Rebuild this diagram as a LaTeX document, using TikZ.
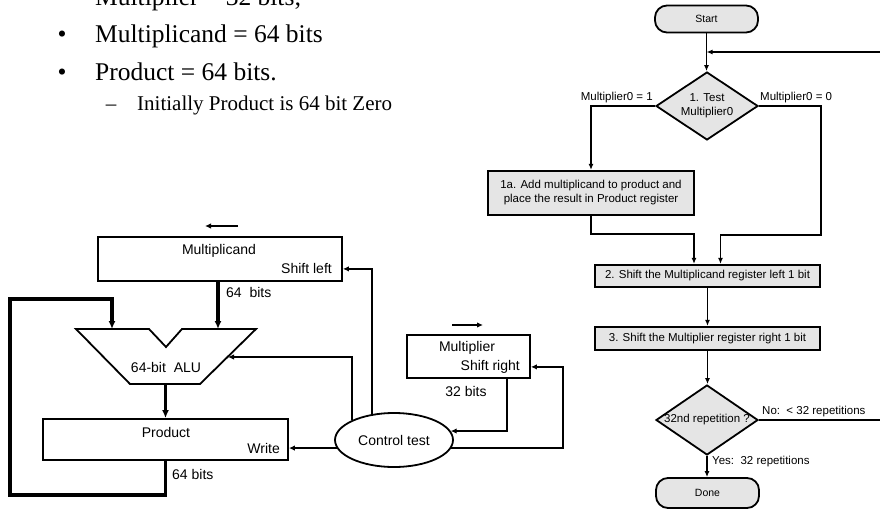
\documentclass[tikz,border=0pt]{standalone}
\usepackage{fontspec}
\setmainfont{Liberation Serif}
\newfontfamily\arialf{Liberation Sans}
\usetikzlibrary{arrows.meta,shapes.geometric,calc}
\begin{document}
\begin{tikzpicture}[x=1pt,y=-1pt,
  bigtxt/.style={font=\fontsize{25.5}{28}\selectfont, inner sep=0pt},
  smalltxt/.style={font=\fontsize{21}{24}\selectfont, inner sep=0pt},
  rtxt/.style={font=\arialf\fontsize{14}{16}\selectfont, inner sep=0pt},
  ftxt/.style={font=\arialf\fontsize{11.5}{14}\selectfont, inner sep=0pt},
  regbox/.style={draw, line width=1.8pt, inner sep=0pt},
  fbox/.style={draw, line width=2.2pt, fill=black!10, inner sep=0pt, align=center, font=\arialf\fontsize{11.5}{14}\selectfont},
  fdia/.style={diamond, draw, line width=1.8pt, fill=black!10, inner sep=0pt, aspect=1.5, align=center, font=\arialf\fontsize{11.5}{14}\selectfont},
  term/.style={draw, line width=1.8pt, fill=black!10, rounded corners=12pt, inner sep=0pt, font=\arialf\fontsize{10.5}{12}\selectfont},
  arr/.style={-{Latex[length=6pt,width=5pt]}, line width=1.8pt},
  tarr/.style={-{Latex[length=6pt,width=5.5pt]}, line width=1.7pt},
  bus/.style={-{Latex[length=8pt,width=7pt]}, line width=3.4pt, line join=miter}
]
\useasboundingbox (0,0) rectangle (880,519);
\clip (0,0) rectangle (880,519);
\fill[white] (0,0) rectangle (880,519);

% ---------- bullet text ----------
\node[bigtxt, anchor=base west] (b0) at (95,6) {Multiplier = 32 bits;};
\node[bigtxt, anchor=base] (bl1) at (62,43) {\textbullet};
\node[bigtxt, anchor=base west] (b1) at (95,43) {Multiplicand = 64 bits};
\node[bigtxt, anchor=base] (bl2) at (62,80) {\textbullet};
\node[bigtxt, anchor=base west] (b2) at (95,80) {Product = 64 bits.};
\node[smalltxt, anchor=base] (d3) at (111,110) {–};
\node[smalltxt, anchor=base west] (b3) at (137,110) {Initially Product is 64 bit Zero};

% ---------- datapath ----------
\node[regbox, minimum width=244pt, minimum height=44pt] (mcand) at (220,259) {};
\node[rtxt] (mcandt) at (219,251) {Multiplicand};
\node[rtxt, anchor=east] (shl) at (332,268) {Shift left};
\draw[tarr] (238,226) -- (205,226);

\coordinate (a1) at (76,329);
\coordinate (a2) at (149,329);
\coordinate (a3) at (166,347);
\coordinate (a4) at (182,329);
\coordinate (a5) at (256,329);
\coordinate (a6) at (200,384);
\coordinate (a7) at (130,384);
\draw[line width=1.8pt, line join=miter] (a1) -- (a2) -- (a3) -- (a4) -- (a5) -- (a6) -- (a7) -- cycle;
\node[rtxt] (alut) at (166,367) {64-bit\ \ ALU};
\coordinate (aluR) at (218,329);
\coordinate (aluL) at (112,329);
\coordinate (aluin) at (228,357);

\node[regbox, minimum width=245pt, minimum height=41pt] (prod) at (165.5,439.5) {};
\node[rtxt] (prodt) at (166,432) {Product};
\node[rtxt, anchor=east] (wr) at (280,448) {Write};

\node[regbox, minimum width=123pt, minimum height=43pt] (mplier) at (468.5,356.5) {};
\node[rtxt] (mplt) at (467,348) {Multiplier};
\node[rtxt, anchor=east] (shr) at (520,367) {Shift right};
\node[rtxt] (m32) at (466,391) {32 bits};
\draw[tarr] (452,325) -- (483,325);

\node[ellipse, draw, line width=1.8pt, minimum width=118pt, minimum height=54pt, inner sep=0pt, rtxt] (ctrl) at (394,440) {Control test};

% buses
\draw[bus] (aluR |- mcand.south) -- (aluR);
\node[rtxt, anchor=west] (l64a) at (226,292) {64\ \ bits};
\draw[bus] (prod.north |- a7) -- (prod.north);
\coordinate (fbL) at (10,495);
\draw[bus] (prod.south) |- (fbL) |- ($(aluL)+(0,-30)$) -- (aluL);
\node[rtxt, anchor=west] (l64b) at (172,474) {64 bits};

% control lines
\draw[tarr] (ctrl.130) |- ($(mcand.south east)+(0,-13)$);
\draw[tarr] (ctrl.155) |- (aluin);
\draw[tarr] (ctrl.188) -- (ctrl.188 -| prod.east);
\draw[tarr] (ctrl.352) -| ($(mplier.south east)+(32,-12)$) -- ($(mplier.south east)+(0,-12)$);
\draw[tarr] ($(mplier.south east)+(-24,0)$) |- (ctrl.9);

% ---------- flowchart ----------
\node[term, minimum width=103pt, minimum height=27pt] (start) at (706.5,19) {Start};
\node[fdia, minimum width=102pt, minimum height=68pt] (t1) at (707,106) {1. Test\\Multiplier0};
\node[ftxt, anchor=east] (lab1) at (653,98) {Multiplier0 = 1};
\node[ftxt, anchor=west] (lab0) at (760,98) {Multiplier0 = 0};
\node[fbox, minimum width=206pt, minimum height=44pt] (s1a) at (591,193) {1a. Add multiplicand to product and\\place the result in Product register};
\node[fbox, minimum width=225pt, minimum height=22pt] (s2) at (707.5,276) {2. Shift the Multiplicand register left 1 bit};
\node[fbox, minimum width=225pt, minimum height=23pt] (s3) at (707.5,338.5) {3. Shift the Multiplier register right 1 bit};
\node[fdia, minimum width=102pt, minimum height=70pt, aspect=1.457] (t2) at (707,420) {32nd repetition ?};
\node[term, minimum width=103pt, minimum height=30pt] (done) at (707.5,493) {Done};

\coordinate (loopc) at (881,52);
\coordinate (rb) at (821,235);
\draw[arr] (start.south) -- (start.south |- t1.north);
\draw[arr] (t2.east) -| (loopc) -- (loopc -| start.south);
\node[ftxt, anchor=west] (nolab) at (762,412) {No:\ \ < 32 repetitions};
\draw[arr] (t1.west) -| (s1a.north);
\draw[arr] (t1.east) -| (rb) -| ($(s2.north)+(13,0)$);
\draw[arr] (s1a.south) |- ($(s2.north)+(-13.5,-30)$) -- ($(s2.north)+(-13.5,0)$);
\draw[arr] (s2.south) -- (s3.north);
\draw[arr] (s3.south) -- (s3.south |- t2.north);
\draw[arr] (t2.south) -- (t2.south |- done.north);
\node[ftxt, anchor=west] (yeslab) at (712,462) {Yes:\ \ 32 repetitions};
\end{tikzpicture}
\end{document}
